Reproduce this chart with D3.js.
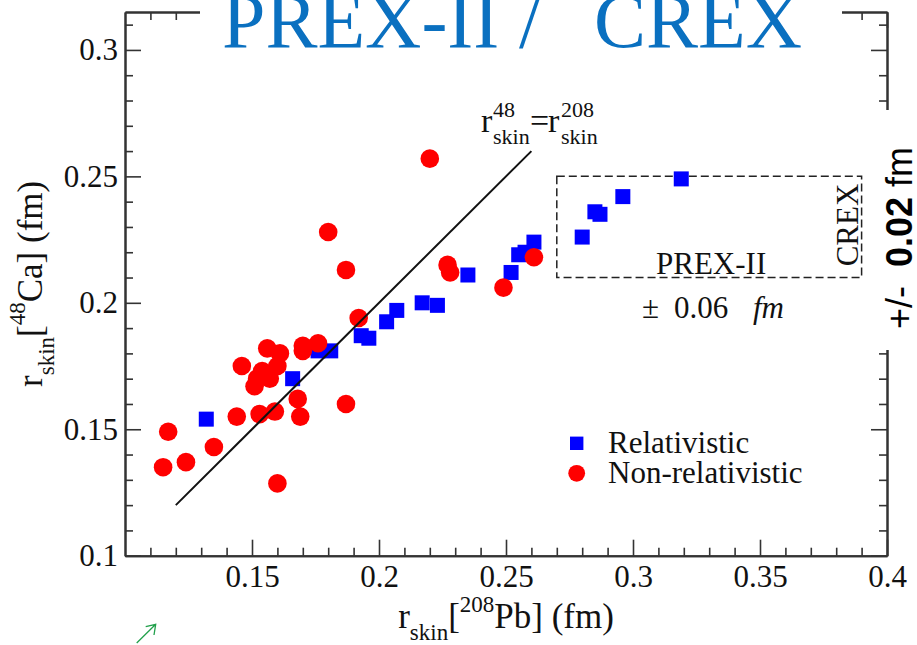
<!DOCTYPE html>
<html>
<head>
<meta charset="utf-8">
<script src="https://cdn.jsdelivr.net/npm/d3@7"></script>
<style>
    html, body { margin: 0; padding: 0; background: #fff; }
    svg { display: block; }
    text { font-family: "Liberation Serif", "Times New Roman", serif; fill: #111; }
</style>
</head>
<body>
<svg id="chart" width="917" height="645"></svg>
<script>
// Neutron skin: 48Ca vs 208Pb, relativistic and non-relativistic models

// Relativistic models (blue squares)
const relX = [0.132, 0.166, 0.176, 0.181, 0.193, 0.196, 0.203, 0.207, 0.217, 0.223,
              0.235, 0.252, 0.255, 0.2575, 0.261, 0.280, 0.285, 0.287, 0.296, 0.319];
const relY = [0.154, 0.170, 0.181, 0.181, 0.187, 0.186, 0.1925, 0.197, 0.200, 0.199,
              0.211, 0.212, 0.219, 0.220, 0.224, 0.226, 0.236, 0.235, 0.242, 0.249];

// Non-relativistic models (red circles)
const nonRelX = [0.117, 0.115, 0.124, 0.135, 0.144, 0.153, 0.159, 0.169, 0.168, 0.160,
                 0.187, 0.146, 0.156, 0.161, 0.170, 0.170, 0.176, 0.160, 0.154, 0.157,
                 0.151, 0.152, 0.192, 0.220, 0.180, 0.187, 0.227, 0.228, 0.249, 0.261];
const nonRelY = [0.149, 0.135, 0.137, 0.143, 0.155, 0.156, 0.157, 0.155, 0.162, 0.1286,
                 0.160, 0.175, 0.182, 0.180, 0.183, 0.181, 0.184, 0.175, 0.173, 0.170,
                 0.167, 0.170, 0.194, 0.257, 0.228, 0.213, 0.215, 0.212, 0.206, 0.218];

// r48 = r208 reference line
const diagX = [0.12, 0.26];

// PREX-II / CREX window
const boxX = [0.27, 0.39];
const boxY = [0.21, 0.25];

// Axis ticks
const xTicksMajor = [0.15, 0.2, 0.25, 0.3, 0.35, 0.4];
const yTicksMajor = [0.1, 0.15, 0.2, 0.25, 0.3];
const xDomain = [0.1, 0.4];
const yDomain = [0.1, 0.315];

const colors = {
    rel: '#0000ff',
    nonRel: '#ff0000',
    axis: '#333',
    title: '#0a70c0',
    arrow: '#22a04c'
};

const svg = d3.select('#chart');
const plot = { left: 125, right: 887, top: 12, bottom: 555.7 };

const x = d3.scaleLinear().domain(xDomain).range([plot.left, plot.right]);
const y = d3.scaleLinear().domain(yDomain).range([plot.bottom, plot.top]);

// Minor ticks every 0.01, skipping the labelled ones
const minorX = d3.range(11, 40).filter(i => i % 5 !== 0).map(i => i / 100);
const minorY = d3.range(11, 32).filter(i => i % 5 !== 0).map(i => i / 100);
const fmt = d => String(+d.toFixed(2));

function styleAxis(g) {
    g.select('.domain').attr('stroke', colors.axis).attr('stroke-width', 2);
    g.selectAll('.tick line').attr('stroke', colors.axis).attr('stroke-width', 1.6);
    g.selectAll('.tick text')
        .attr('fill', '#111')
        .style('font-family', '"Liberation Serif", serif')
        .style('font-size', '31px');
}

// Bottom axis
svg.append('g')
    .attr('transform', `translate(0,${plot.bottom})`)
    .call(d3.axisBottom(x).tickValues(minorX).tickSize(-8).tickSizeOuter(0).tickFormat(''))
    .call(styleAxis);
svg.append('g')
    .attr('transform', `translate(0,${plot.bottom})`)
    .call(d3.axisBottom(x).tickValues(xTicksMajor).tickSize(-16).tickSizeOuter(0)
        .tickPadding(9).tickFormat(fmt))
    .call(styleAxis);

// Left axis
svg.append('g')
    .attr('transform', `translate(${plot.left},0)`)
    .call(d3.axisLeft(y).tickValues(minorY).tickSize(-8).tickSizeOuter(0).tickFormat(''))
    .call(styleAxis);
svg.append('g')
    .attr('transform', `translate(${plot.left},0)`)
    .call(d3.axisLeft(y).tickValues(yTicksMajor).tickSize(-16).tickSizeOuter(0)
        .tickPadding(7).tickFormat(fmt))
    .call(styleAxis);

// Mirror axes (top, right), ticks only
svg.append('g')
    .attr('transform', `translate(0,${plot.top})`)
    .call(d3.axisTop(x).tickValues(minorX).tickSize(-8).tickSizeOuter(0).tickFormat(''))
    .call(styleAxis);
svg.append('g')
    .attr('transform', `translate(0,${plot.top})`)
    .call(d3.axisTop(x).tickValues(xTicksMajor).tickSize(-16).tickSizeOuter(0).tickFormat(''))
    .call(styleAxis);
svg.append('g')
    .attr('transform', `translate(${plot.right},0)`)
    .call(d3.axisRight(y).tickValues(minorY).tickSize(-8).tickSizeOuter(0).tickFormat(''))
    .call(styleAxis);
svg.append('g')
    .attr('transform', `translate(${plot.right},0)`)
    .call(d3.axisRight(y).tickValues(yTicksMajor).tickSize(-16).tickSizeOuter(0).tickFormat(''))
    .call(styleAxis);

// Axis titles
const yLabel = svg.append('text')
    .attr('transform', `translate(42,${(plot.top + plot.bottom) / 2}) rotate(-90)`)
    .attr('text-anchor', 'middle')
    .style('font-size', '35px');
yLabel.append('tspan').text('r');
yLabel.append('tspan').attr('dy', 12).style('font-size', '23px').text('skin');
yLabel.append('tspan').attr('dy', -12).text('[');
yLabel.append('tspan').attr('dy', -17).style('font-size', '23px').text('48');
yLabel.append('tspan').attr('dy', 17).text('Ca] (fm)');

const xLabel = svg.append('text')
    .attr('transform', `translate(${(plot.left + plot.right) / 2},628)`)
    .attr('text-anchor', 'middle')
    .style('font-size', '35px');
xLabel.append('tspan').text('r');
xLabel.append('tspan').attr('dy', 12).style('font-size', '23px').text('skin');
xLabel.append('tspan').attr('dy', -12).text('[');
xLabel.append('tspan').attr('dy', -16).style('font-size', '23px').text('208');
xLabel.append('tspan').attr('dy', 16).text('Pb] (fm)');

// Dashed PREX-II / CREX box
svg.append('rect')
    .attr('x', x(boxX[0]))
    .attr('y', y(boxY[1]))
    .attr('width', x(boxX[1]) - x(boxX[0]))
    .attr('height', y(boxY[0]) - y(boxY[1]))
    .attr('fill', 'none')
    .attr('stroke', '#222')
    .attr('stroke-width', 1.5)
    .attr('stroke-dasharray', '8,4');

svg.append('text')
    .attr('x', 656).attr('y', 274)
    .style('font-size', '31px')
    .text('PREX-II');

svg.append('text')
    .attr('transform', 'translate(858,225) rotate(-90)')
    .attr('text-anchor', 'middle')
    .style('font-size', '31px')
    .text('CREX');

const prexErr = svg.append('text').attr('y', 318).style('font-size', '31px');
prexErr.append('tspan').attr('x', 642).text('±');
prexErr.append('tspan').attr('x', 674).text('0.06');
prexErr.append('tspan').attr('x', 753).style('font-style', 'italic').text('fm');

// Points: squares first, circles on top
svg.append('g').selectAll('rect')
    .data(d3.zip(relX, relY))
    .join('rect')
    .attr('x', d => x(d[0]) - 7.5)
    .attr('y', d => y(d[1]) - 7.5)
    .attr('width', 15)
    .attr('height', 15)
    .attr('fill', colors.rel);

svg.append('g').selectAll('circle')
    .data(d3.zip(nonRelX, nonRelY))
    .join('circle')
    .attr('cx', d => x(d[0]))
    .attr('cy', d => y(d[1]))
    .attr('r', 9.3)
    .attr('fill', colors.nonRel);

// Diagonal r48 = r208
svg.append('line')
    .attr('x1', x(diagX[0])).attr('y1', y(diagX[0]))
    .attr('x2', x(diagX[1])).attr('y2', y(diagX[1]))
    .attr('stroke', '#111')
    .attr('stroke-width', 2);

// Diagonal label: r^48_skin = r^208_skin
const lab = svg.append('g').style('font-size', '34px');
lab.append('text').attr('x', 481).attr('y', 132).text('r');
lab.append('text').attr('x', 493).attr('y', 116.5).style('font-size', '22px').text('48');
lab.append('text').attr('x', 493).attr('y', 144).style('font-size', '22px').text('skin');
lab.append('text').attr('x', 530).attr('y', 132).text('=');
lab.append('text').attr('x', 548).attr('y', 132).text('r');
lab.append('text').attr('x', 561).attr('y', 116.5).style('font-size', '22px').text('208');
lab.append('text').attr('x', 561).attr('y', 144).style('font-size', '22px').text('skin');

// Legend
svg.append('rect')
    .attr('x', 570).attr('y', 436.6)
    .attr('width', 13.4).attr('height', 13.4)
    .attr('fill', colors.rel);
svg.append('circle')
    .attr('cx', 576.7).attr('cy', 473.3).attr('r', 8.4)
    .attr('fill', colors.nonRel);
svg.append('text').attr('x', 608).attr('y', 453).style('font-size', '31px').text('Relativistic');
svg.append('text').attr('x', 608).attr('y', 483).style('font-size', '31px').text('Non-relativistic');

// Title on a white patch over the top frame
svg.append('rect')
    .attr('x', 200).attr('y', 0).attr('width', 642).attr('height', 58)
    .attr('fill', '#fff');
const title = svg.append('text')
    .attr('y', 47)
    .style('font-size', '78px')
    .style('fill', colors.title);
title.append('tspan').attr('x', 222).text('PREX-II');
title.append('tspan').attr('x', 519).text('/');
title.append('tspan').attr('x', 594).text('CREX');

// CREX precision note on a white patch over the right frame
svg.append('rect')
    .attr('x', 867).attr('y', 110).attr('width', 50).attr('height', 240)
    .attr('fill', '#fff');
const note = svg.append('text')
    .attr('transform', 'translate(912,329) rotate(-90)')
    .style('font-family', '"Liberation Sans", Arial, sans-serif')
    .style('font-size', '36px')
    .style('fill', '#000');
note.append('tspan').text('+/-');
note.append('tspan').attr('dx', 19).style('font-weight', 'bold').text('0.02');
note.append('tspan').attr('dx', 10).text('fm');

// Small green arrow mark bottom left
svg.append('path')
    .attr('d', 'M136.7,643 L155.7,624.3 M145.7,626.7 L155.7,624.3 L154,635')
    .attr('fill', 'none')
    .attr('stroke', colors.arrow)
    .attr('stroke-width', 1.3);
</script>
</body>
</html>
